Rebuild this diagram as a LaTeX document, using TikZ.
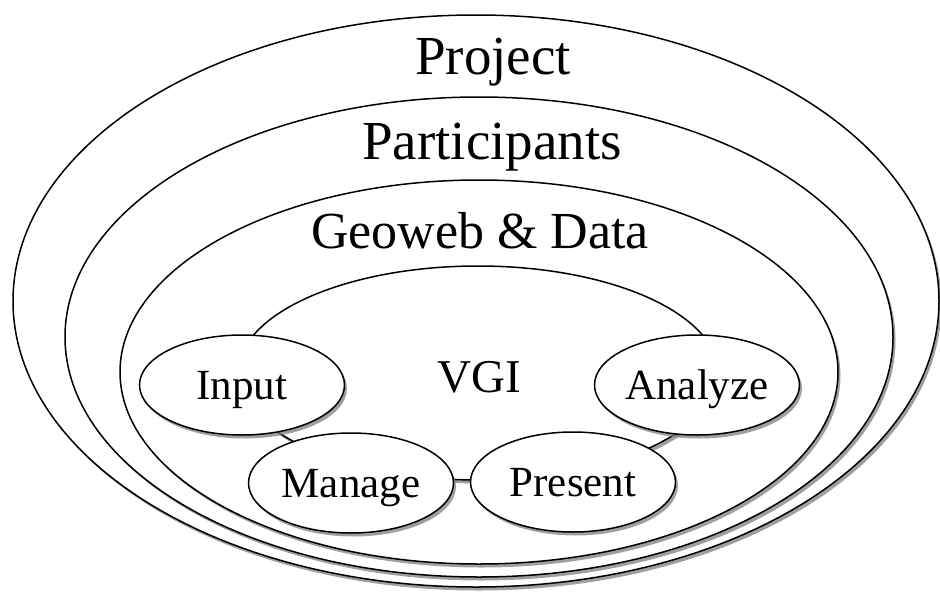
\documentclass[tikz,border=0pt]{standalone}
\usepackage{fontspec}
\setmainfont{Liberation Serif}
\usetikzlibrary{shapes.geometric,shadows}
\tikzset{
  ring/.style={ellipse, draw, line width=1.5pt, fill=white, inner sep=0pt,
    drop shadow={shadow xshift=2.5pt, shadow yshift=-3.5pt, opacity=0.75}},
  task/.style={ring, minimum width=205pt, minimum height=100pt,
    font=\fontsize{43}{43}\selectfont, text height=28pt, text depth=0pt},
  title/.style={anchor=base, inner sep=0pt, font=\fontsize{55}{55}\selectfont}
}
\begin{document}
\begin{tikzpicture}[x=1pt,y=-1pt]
\fill[white] (0,0) rectangle (940,592);
\useasboundingbox (0,0) rectangle (940,592);
\node[ring, minimum width=926pt, minimum height=572pt] (project) at (476,301) {};
\node[ring, minimum width=828pt, minimum height=480pt] (participants) at (479,337) {};
\node[ring, minimum width=718pt, minimum height=384pt] (geoweb) at (479,372) {};
\node[ring, minimum width=480pt, minimum height=214pt] (vgi) at (478,373) {};
\node[title] (tproject) at (493,74) {Project};
\node[title] (tparticipants) at (492,159) {Participants};
\node[title, font=\fontsize{52}{52}\selectfont] (tgeoweb) at (480,248) {Geoweb \& Data};
\node[title, font=\fontsize{47}{47}\selectfont] (tvgi) at (479,392) {VGI};
\node[task] (input) at (242,385) {Input};
\node[task] (analyze) at (697,385) {Analyze};
\node[task] (manage) at (351,483) {Manage};
\node[task] (present) at (573,482) {Present};
\end{tikzpicture}
\end{document}
